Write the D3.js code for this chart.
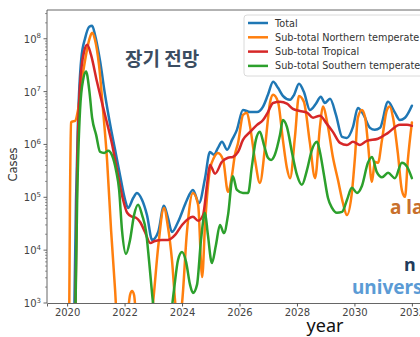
<!DOCTYPE html>
<html>
<head>
<meta charset="utf-8">
<script src="https://cdn.jsdelivr.net/npm/d3@7"></script>
<style>
  html, body { margin: 0; padding: 0; background: #fff; overflow: hidden; }
  svg { display: block; }
</style>
</head>
<body>
<svg id="chart" width="420" height="337"></svg>
<script>
// Axis ticks
const xTickYears = [2020, 2022, 2024, 2026, 2028, 2030, 2032];
const yTickExponents = [3, 4, 5, 6, 7, 8];

// Legend labels and colours
const seriesNames = ["Total", "Sub-total Northern temperate", "Sub-total Tropical", "Sub-total Southern temperate"];
const seriesColors = ["#1f77b4", "#ff7f0e", "#d62728", "#2ca02c"];

// Total
const totalYears = [2020.24, 2020.31, 2020.38, 2020.49, 2020.63, 2020.77, 2020.87, 2020.97, 2021.15, 2021.32, 2021.50, 2021.67, 2021.84, 2022.02, 2022.12, 2022.30, 2022.43, 2022.61, 2022.78, 2022.96, 2023.17, 2023.37, 2023.51, 2023.65, 2023.86, 2024.10, 2024.17, 2024.38, 2024.59, 2024.80, 2024.97, 2025.11, 2025.25, 2025.39, 2025.57, 2025.74, 2025.91, 2026.12, 2026.37, 2026.61, 2026.82, 2026.99, 2027.17, 2027.34, 2027.51, 2027.76, 2027.90, 2028.07, 2028.24, 2028.45, 2028.66, 2028.83, 2028.97, 2029.15, 2029.36, 2029.57, 2029.74, 2029.95, 2030.12, 2030.30, 2030.54, 2030.71, 2030.89, 2031.17, 2031.41, 2031.58, 2031.76, 2032.00];
const totalCases = [3.1e2, 8.9e4, 2.9e6, 4.0e7, 1.04e8, 1.69e8, 1.76e8, 1.19e8, 3.7e7, 8.7e6, 2.35e6, 7.9e5, 2.65e5, 8.9e4, 6.3e4, 9.7e4, 1.21e5, 8.9e4, 4.6e4, 1.56e4, 2.2e4, 6.9e4, 4.1e4, 2.2e4, 3.4e4, 7.2e4, 8.9e4, 1.38e5, 7.8e4, 2.3e5, 7.2e5, 6.4e5, 8.6e5, 1.12e6, 7.9e5, 1.22e6, 1.89e6, 4.5e6, 4.1e6, 4.1e6, 5.2e6, 8.7e6, 1.53e7, 1.18e7, 8.3e6, 7.0e6, 8.7e6, 1.41e7, 9.9e6, 4.5e6, 5.9e6, 8.0e6, 6.1e6, 7.3e6, 3.6e6, 1.39e6, 1.33e6, 2.15e6, 4.9e6, 3.8e6, 2.06e6, 1.89e6, 2.06e6, 6.4e6, 4.0e6, 2.9e6, 3.2e6, 5.4e6];

// Sub-total Northern temperate
const northYears = [2020.03, 2020.07, 2020.10, 2020.14, 2020.17, 2020.28, 2020.38, 2020.52, 2020.66, 2020.77, 2020.87, 2020.97, 2021.11, 2021.25, 2021.39, 2021.53, 2021.67, 2021.77, 2021.91, 2022.09, 2022.19, 2022.26, 2022.33, 2022.43, 2022.61, 2022.82, 2022.99, 2023.17, 2023.37, 2023.51, 2023.65, 2023.79, 2023.90, 2024.00, 2024.17, 2024.38, 2024.56, 2024.70, 2024.80, 2024.97, 2025.11, 2025.25, 2025.43, 2025.60, 2025.74, 2025.84, 2025.95, 2026.12, 2026.26, 2026.37, 2026.54, 2026.71, 2026.89, 2027.06, 2027.17, 2027.34, 2027.51, 2027.65, 2027.76, 2027.93, 2028.07, 2028.24, 2028.45, 2028.63, 2028.80, 2028.90, 2029.08, 2029.25, 2029.43, 2029.60, 2029.74, 2029.91, 2030.02, 2030.12, 2030.26, 2030.37, 2030.47, 2030.61, 2030.71, 2030.82, 2030.96, 2031.13, 2031.23, 2031.34, 2031.51, 2031.65, 2031.76, 2031.86, 2032.00];
const northCases = [14, 3.1e2, 8.9e4, 2.6e6, 2.7e6, 2.8e6, 4.5e6, 1.7e7, 5.0e7, 9.6e7, 1.3e8, 9.6e7, 3.2e7, 4.5e6, 5.1e5, 2.4e4, 1.76e3, 2.0e2, 83, 4.8e2, 1.42e3, 1.69e3, 1.42e3, 3.1e2, 54, 2.0e2, 1.0e3, 1.15e4, 6.3e4, 2.75e4, 6.5e3, 7.4e2, 4.8e2, 1.0e3, 2.2e4, 1.21e5, 7.2e4, 3.1e3, 3.0e4, 3.3e5, 5.6e5, 6.9e5, 5.1e5, 1.27e5, 2.65e5, 6.4e5, 1.07e6, 3.6e6, 4.0e6, 2.15e6, 5.1e5, 1.87e5, 9.0e5, 6.1e6, 8.7e6, 6.4e6, 1.22e6, 3.6e5, 2.3e5, 1.39e6, 8.3e6, 6.4e6, 1.07e6, 2.3e5, 2.15e6, 5.2e6, 2.15e6, 5.8e5, 2.1e5, 7.8e4, 4.6e4, 1.21e5, 5.8e5, 3.2e6, 4.5e6, 3.3e6, 1.07e6, 1.96e5, 4.7e5, 4.5e5, 1.22e6, 4.5e6, 5.2e6, 3.3e6, 6.9e5, 1.38e5, 1.02e5, 5.1e5, 2.6e6];

// Sub-total Tropical
const tropicYears = [2020.28, 2020.35, 2020.45, 2020.59, 2020.70, 2020.83, 2021.04, 2021.32, 2021.57, 2021.77, 2021.95, 2022.09, 2022.26, 2022.40, 2022.54, 2022.71, 2022.89, 2023.06, 2023.30, 2023.51, 2023.76, 2024.00, 2024.21, 2024.38, 2024.56, 2024.73, 2024.87, 2024.97, 2025.15, 2025.39, 2025.60, 2025.77, 2025.95, 2026.12, 2026.37, 2026.61, 2026.82, 2026.99, 2027.17, 2027.41, 2027.65, 2027.86, 2028.10, 2028.35, 2028.56, 2028.80, 2029.04, 2029.25, 2029.50, 2029.74, 2029.95, 2030.19, 2030.43, 2030.82, 2031.17, 2031.58, 2031.83, 2032.00];
const tropicCases = [3.1e2, 3.3e5, 1.35e7, 5.7e7, 7.7e7, 5.0e7, 1.53e7, 3.6e6, 9.8e5, 2.65e5, 8.9e4, 5.1e4, 4.3e4, 4.1e4, 3.4e4, 2.2e4, 1.37e4, 1.49e4, 1.56e4, 1.56e4, 1.94e4, 3.0e4, 3.9e4, 4.3e4, 3.6e4, 4.6e4, 1.72e5, 4.1e5, 2.8e5, 4.7e5, 5.6e5, 5.8e5, 7.2e5, 1.22e6, 1.73e6, 2.35e6, 2.9e6, 4.1e6, 6.1e6, 6.4e6, 5.9e6, 4.7e6, 4.3e6, 4.0e6, 3.2e6, 3.5e6, 2.45e6, 1.73e6, 1.07e6, 9.8e5, 1.12e6, 9.8e5, 1.17e6, 1.28e6, 1.66e6, 2.35e6, 2.35e6, 2.25e6];

// Sub-total Southern temperate
const southYears = [2020.28, 2020.35, 2020.45, 2020.56, 2020.66, 2020.77, 2020.87, 2021.01, 2021.15, 2021.29, 2021.43, 2021.57, 2021.70, 2021.81, 2021.91, 2022.05, 2022.19, 2022.33, 2022.47, 2022.61, 2022.75, 2022.85, 2022.99, 2023.17, 2023.37, 2023.55, 2023.72, 2023.86, 2024.00, 2024.14, 2024.28, 2024.38, 2024.52, 2024.66, 2024.80, 2024.90, 2025.04, 2025.18, 2025.32, 2025.46, 2025.60, 2025.77, 2025.91, 2026.12, 2026.30, 2026.43, 2026.57, 2026.71, 2026.85, 2026.99, 2027.10, 2027.23, 2027.41, 2027.51, 2027.65, 2027.83, 2028.00, 2028.17, 2028.35, 2028.52, 2028.70, 2028.80, 2028.94, 2029.08, 2029.22, 2029.39, 2029.57, 2029.74, 2029.91, 2030.09, 2030.26, 2030.47, 2030.61, 2030.78, 2030.96, 2031.17, 2031.41, 2031.65, 2031.83, 2032.00];
const southCases = [3.1e2, 8.9e4, 4.5e6, 1.7e7, 2.4e7, 1.08e7, 3.2e6, 1.52e6, 7.2e5, 6.9e5, 7.6e5, 6.1e5, 3.3e5, 1.38e5, 2.4e4, 8.5e3, 1.56e4, 4.6e4, 7.2e4, 4.6e4, 2.2e4, 6.5e3, 1.0e3, 1.6e2, 1.3e2, 3.1e2, 1.76e3, 6.5e3, 9.2e3, 6.0e3, 2.2e3, 1.55e3, 2.2e3, 1.56e4, 5.1e4, 1.94e4, 5.7e3, 1.25e4, 3.0e4, 2.1e4, 4.6e4, 2.5e5, 1.38e5, 1.21e5, 1.21e5, 3.8e5, 1.22e6, 1.73e6, 9.8e5, 5.6e5, 5.1e5, 6.4e5, 1.52e6, 2.9e6, 2.15e6, 6.9e5, 2.65e5, 1.72e5, 3.3e5, 7.9e5, 1.12e6, 7.2e5, 2.65e5, 9.7e4, 6.3e4, 5.1e4, 5.3e4, 8.9e4, 1.51e5, 1.21e5, 1.64e5, 4.5e5, 5.8e5, 3.0e5, 2.4e5, 2.9e5, 2.3e5, 4.5e5, 3.8e5, 2.3e5];

const seriesYears = [totalYears, northYears, tropicYears, southYears];
const seriesCases = [totalCases, northCases, tropicCases, southCases];

const svg = d3.select("#chart");
const plot = { left: 47, top: 10, bottom: 303, right: 432 };

const x = d3.scaleLinear().domain([2019.3, 2032.7]).range([plot.left, plot.right]);
const y = d3.scaleLog().domain([1e3, 3.5e8]).range([plot.bottom, plot.top]);

const axisColor = "#555";
const tickText = "#444";
const tickFont = "DejaVu Sans, sans-serif";

svg.append("defs").append("clipPath").attr("id", "plotClip")
  .append("rect")
  .attr("x", plot.left).attr("y", plot.top)
  .attr("width", plot.right - plot.left).attr("height", plot.bottom - plot.top);

// Data lines
const line = d3.line()
  .x(d => x(d[0]))
  .y(d => y(d[1]))
  .curve(d3.curveMonotoneX);

const lines = svg.append("g").attr("clip-path", "url(#plotClip)");
seriesNames.forEach((name, i) => {
  const pts = seriesYears[i].map((yr, k) => [yr, seriesCases[i][k]]);
  lines.append("path")
    .datum(pts)
    .attr("fill", "none")
    .attr("stroke", seriesColors[i])
    .attr("stroke-width", 2.5)
    .attr("stroke-linejoin", "round")
    .attr("stroke-linecap", "round")
    .attr("d", line);
});

// Spines
svg.append("line").attr("x1", plot.left).attr("x2", plot.right).attr("y1", plot.top).attr("y2", plot.top)
  .attr("stroke", axisColor).attr("stroke-width", 0.9);
svg.append("line").attr("x1", plot.left).attr("x2", plot.left).attr("y1", plot.top).attr("y2", plot.bottom)
  .attr("stroke", axisColor).attr("stroke-width", 0.9);

// X axis
const xAxis = d3.axisBottom(x)
  .tickValues(xTickYears)
  .tickSize(3.5)
  .tickPadding(2)
  .tickFormat(d3.format("d"));
const gx = svg.append("g").attr("transform", `translate(0,${plot.bottom})`).call(xAxis);
gx.select(".domain").attr("stroke", axisColor).attr("stroke-width", 0.9);
gx.selectAll(".tick line").attr("stroke", axisColor);
gx.selectAll(".tick text").attr("fill", tickText).style("font-family", tickFont).style("font-size", "10px");

// Y axis: major ticks with power-of-ten labels, minor ticks between
const majorValues = yTickExponents.map(e => Math.pow(10, e));
const minorValues = [];
yTickExponents.forEach(e => {
  for (let m = 2; m <= 9; m++) {
    const v = m * Math.pow(10, e);
    if (v <= y.domain()[1]) minorValues.push(v);
  }
});
const gy = svg.append("g");
gy.selectAll("line.minor").data(minorValues).join("line")
  .attr("x1", plot.left).attr("x2", plot.left - 2)
  .attr("y1", d => y(d)).attr("y2", d => y(d))
  .attr("stroke", axisColor).attr("stroke-width", 0.6);
gy.selectAll("line.major").data(majorValues).join("line")
  .attr("x1", plot.left).attr("x2", plot.left - 3.5)
  .attr("y1", d => y(d)).attr("y2", d => y(d))
  .attr("stroke", axisColor).attr("stroke-width", 0.9);
const yl = gy.selectAll("text").data(yTickExponents).join("text")
  .attr("x", 41)
  .attr("y", d => y(Math.pow(10, d)) + 4)
  .attr("text-anchor", "end")
  .attr("fill", tickText)
  .style("font-family", tickFont)
  .style("font-size", "10px");
yl.append("tspan").text("10");
yl.append("tspan").attr("dy", -4.5).style("font-size", "7px").text(d => d);

// Axis titles
svg.append("text")
  .attr("transform", `translate(17,${(plot.top + plot.bottom) / 2 + 8}) rotate(-90)`)
  .attr("text-anchor", "middle")
  .attr("fill", "#333")
  .style("font-family", tickFont)
  .style("font-size", "11.5px")
  .text("Cases");

svg.append("text")
  .attr("x", 325).attr("y", 332)
  .attr("text-anchor", "middle")
  .attr("fill", "#111")
  .style("font-family", "'Noto Sans', sans-serif")
  .style("font-size", "18px")
  .text("year");

// Legend
const legend = svg.append("g");
legend.append("rect")
  .attr("x", 244).attr("y", 15).attr("width", 200).attr("height", 61)
  .attr("rx", 3)
  .attr("fill", "#fff").attr("fill-opacity", 0.85)
  .attr("stroke", "#d0d0d0").attr("stroke-width", 0.8);
seriesNames.forEach((name, i) => {
  const cy = 23 + i * 14.3;
  legend.append("line")
    .attr("x1", 248).attr("x2", 268).attr("y1", cy).attr("y2", cy)
    .attr("stroke", seriesColors[i]).attr("stroke-width", 2.5);
  legend.append("text")
    .attr("x", 275).attr("y", cy + 3.5)
    .attr("fill", "#333")
    .style("font-family", tickFont)
    .style("font-size", "9.7px")
    .text(name);
});

// Title and side notes
svg.append("text")
  .attr("x", 125).attr("y", 66)
  .attr("fill", "#3b4d61")
  .style("font-family", "'Noto Sans CJK KR', sans-serif")
  .style("font-weight", "bold")
  .style("font-size", "19px")
  .text("장기 전망");

svg.append("text")
  .attr("x", 390).attr("y", 214)
  .attr("fill", "#c8702c")
  .style("font-family", "'Noto Sans', sans-serif")
  .style("font-weight", "bold")
  .style("font-size", "19px")
  .text("a la");

svg.append("text")
  .attr("x", 404).attr("y", 271)
  .attr("fill", "#1f3b5c")
  .style("font-family", "'Noto Sans', sans-serif")
  .style("font-weight", "bold")
  .style("font-size", "18px")
  .text("n");

svg.append("text")
  .attr("x", 352).attr("y", 294)
  .attr("fill", "#5b9bd5")
  .style("font-family", "'Noto Sans', sans-serif")
  .style("font-weight", "bold")
  .style("font-size", "19px")
  .text("univers");
</script>
</body>
</html>
